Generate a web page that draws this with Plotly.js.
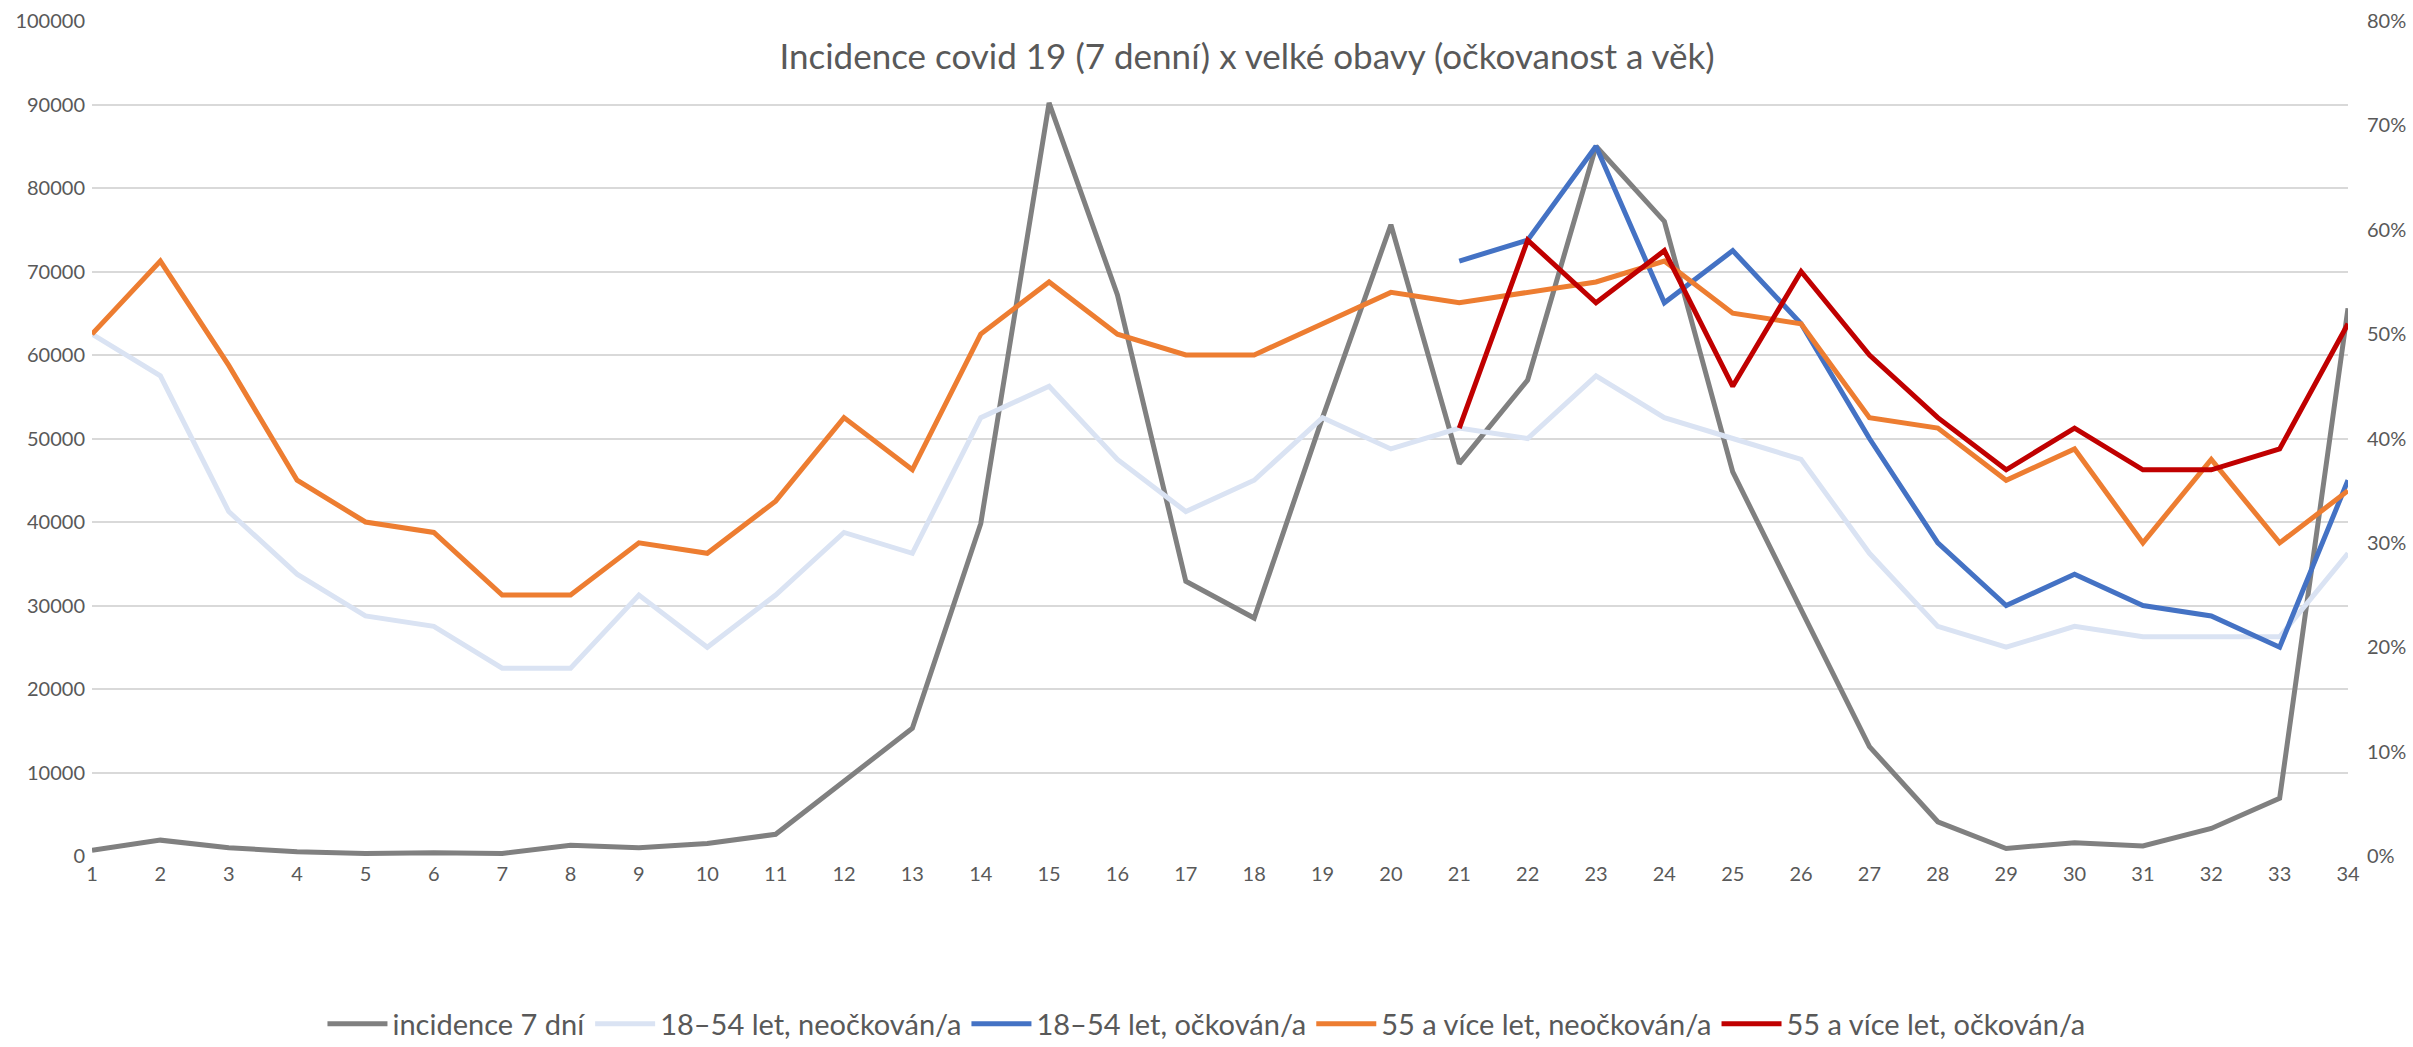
<!DOCTYPE html>
<html>
<head>
<meta charset="utf-8">
<script src="https://cdn.plot.ly/plotly-3.0.1.min.js"></script>
<style>html,body{margin:0;padding:0;background:#fff;}#chart{width:2413px;height:1047px;}</style>
</head>
<body>
<div id="chart"></div>
<script>
const weeks = [1,2,3,4,5,6,7,8,9,10,11,12,13,14,15,16,17,18,19,20,21,22,23,24,25,26,27,28,29,30,31,32,33,34];

const incidence7 = [700,1900,1000,500,300,400,300,1300,1000,1500,2600,9000,15300,39800,90200,67200,32900,28500,52500,75600,47000,57000,85000,76000,46000,29500,13100,4100,900,1600,1200,3300,6900,65600];

const young_unvacc = [0.50,0.46,0.33,0.27,0.23,0.22,0.18,0.18,0.25,0.20,0.25,0.31,0.29,0.42,0.45,0.38,0.33,0.36,0.42,0.39,0.41,0.40,0.46,0.42,0.40,0.38,0.29,0.22,0.20,0.22,0.21,0.21,0.21,0.29];

const young_vacc = [null,null,null,null,null,null,null,null,null,null,null,null,null,null,null,null,null,null,null,null,0.57,0.59,0.68,0.53,0.58,0.51,0.40,0.30,0.24,0.27,0.24,0.23,0.20,0.36];

const old_unvacc = [0.50,0.57,0.47,0.36,0.32,0.31,0.25,0.25,0.30,0.29,0.34,0.42,0.37,0.50,0.55,0.50,0.48,0.48,0.51,0.54,0.53,0.54,0.55,0.57,0.52,0.51,0.42,0.41,0.36,0.39,0.30,0.38,0.30,0.35];

const old_vacc = [null,null,null,null,null,null,null,null,null,null,null,null,null,null,null,null,null,null,null,null,0.41,0.59,0.53,0.58,0.45,0.56,0.48,0.42,0.37,0.41,0.37,0.37,0.39,0.51];

const seriesNames = ["incidence 7 dní","18–54 let, neočkován/a","18–54 let, očkován/a","55 a více let, neočkován/a","55 a více let, očkován/a"];

const FONT = "Lato, Carlito, Calibri, 'Open Sans', sans-serif";
const TXT = "#595959";
const LW = 5;

const traces = [
  {x: weeks, y: incidence7, name: seriesNames[0], type: "scatter", mode: "lines", yaxis: "y", line: {color: "#808080", width: LW}},
  {x: weeks, y: young_unvacc, name: seriesNames[1], type: "scatter", mode: "lines", yaxis: "y2", line: {color: "#dae3f3", width: LW}},
  {x: weeks, y: young_vacc, name: seriesNames[2], type: "scatter", mode: "lines", yaxis: "y2", line: {color: "#4472c4", width: LW}},
  {x: weeks, y: old_unvacc, name: seriesNames[3], type: "scatter", mode: "lines", yaxis: "y2", line: {color: "#ed7d31", width: LW}},
  {x: weeks, y: old_vacc, name: seriesNames[4], type: "scatter", mode: "lines", yaxis: "y2", line: {color: "#c00000", width: LW}}
];

const layout = {
  width: 2413, height: 1047,
  margin: {l: 92, r: 65, t: 21, b: 191, pad: 0, autoexpand: false},
  paper_bgcolor: "#ffffff", plot_bgcolor: "#ffffff",
  font: {family: FONT, color: TXT, size: 20},
  showlegend: true,
  title: {text: "Incidence covid 19 (7 denní) x velké obavy (očkovanost a věk)", font: {family: FONT, size: 35, color: TXT}, x: 0.512, xanchor: "center", xref: "paper", y: 0.957, yanchor: "middle", yref: "paper"},
  xaxis: {
    range: [1, 34], tickmode: "array", tickvals: weeks, ticktext: weeks.map(String),
    showgrid: false, zeroline: false, showline: false, ticks: "",
    tickfont: {family: FONT, size: 20, color: TXT}, ticklabelstandoff: 4, fixedrange: true, automargin: false
  },
  yaxis: {
    range: [0, 100000], dtick: 10000, tick0: 0, showgrid: true, gridcolor: "#d9d9d9", gridwidth: 2,
    zeroline: false, showline: false, ticks: "", tickformat: "d",
    tickfont: {family: FONT, size: 20, color: TXT}, ticklabelstandoff: 6, automargin: false
  },
  yaxis2: {
    range: [0, 0.8], dtick: 0.1, tick0: 0, overlaying: "y", side: "right", showgrid: false,
    zeroline: false, showline: false, ticks: "", tickformat: ".0%",
    tickfont: {family: FONT, size: 20, color: TXT}, ticklabelstandoff: 18, automargin: false
  },
  legend: {
    orientation: "h", x: 0.494, xanchor: "center", y: -0.201, yanchor: "middle",
    font: {family: FONT, size: 29, color: TXT}, bgcolor: "rgba(0,0,0,0)", itemwidth: 60
  }
};

Plotly.newPlot("chart", traces, layout, {displayModeBar: false, staticPlot: true});
</script>
</body>
</html>
